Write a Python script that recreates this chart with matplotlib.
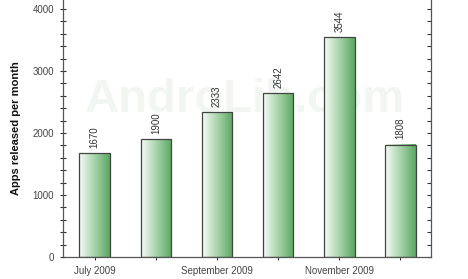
import numpy as np
import matplotlib
matplotlib.use("Agg")
import matplotlib.pyplot as plt
from matplotlib.colors import LinearSegmentedColormap
from matplotlib.ticker import MultipleLocator

months = ["July 2009", "August 2009", "September 2009", "October 2009", "November 2009", "December 2009"]
apps = [1670, 1900, 2333, 2642, 3544, 1808]
shown_labels = ["July 2009", "", "September 2009", "", "November 2009", ""]
y_ticks = [0, 1000, 2000, 3000, 4000]

plt.rcParams['font.family'] = ['Liberation Sans', 'DejaVu Sans']

fig = plt.figure(figsize=(4.68, 2.79), dpi=100)
ax = fig.add_axes([0.1346, 0.079, 0.921 - 0.1346, 0.921])

cmap = LinearSegmentedColormap.from_list("g", ["#f6fbf6", "#a8d4ab", "#5aa862"])
grad = np.linspace(0, 1, 64).reshape(1, -1)
x = np.arange(len(apps))
w = 0.5
for xi, v in zip(x, apps):
    ax.imshow(grad, cmap=cmap, aspect='auto', extent=(xi - w / 2, xi + w / 2, 0, v),
              zorder=2, interpolation='bilinear')
    ax.add_patch(plt.Rectangle((xi - w / 2, 0), w, v, fill=False, edgecolor='#444444',
                               linewidth=0.9, zorder=3))
    ax.text(xi, v + 90, str(v), rotation=90, ha='center', va='bottom',
            fontsize=7, color='#333333', zorder=4)

ax.text(2.45, 2530, "AndroLib.com", fontsize=34, fontweight='bold', color='#f2f6f2',
        ha='center', va='center', zorder=1)

ax.set_xlim(-0.52, 5.5)
ax.set_ylim(0, 4145)
ax.set_xticks(x)
ax.set_xticklabels(shown_labels, fontsize=7, color='#444444')
ax.set_yticks(y_ticks)
ax.set_yticklabels([str(t) for t in y_ticks], fontsize=7, color='#444444')
ax.yaxis.set_minor_locator(MultipleLocator(200))
ax.tick_params(axis='y', which='both', direction='inout', length=5, width=0.8, color='#333333',
               right=False, pad=4)
ax.tick_params(axis='y', which='minor', length=4)
ax.tick_params(axis='x', direction='inout', length=5, width=0.8, color='#333333', pad=4)

sec = ax.secondary_yaxis('right')
sec.set_yticks(y_ticks)
sec.yaxis.set_minor_locator(MultipleLocator(200))
sec.tick_params(axis='y', which='both', direction='in', length=3, width=0.8, color='#333333',
                labelright=False)
sec.spines['right'].set_color('#555555')
sec.spines['right'].set_linewidth(0.9)

ax.spines['top'].set_visible(False)
ax.spines['right'].set_visible(False)
for s in ['left', 'bottom']:
    ax.spines[s].set_color('#555555')
    ax.spines[s].set_linewidth(0.9)

ax.set_ylabel("Apps released per month", fontsize=8, fontweight='bold', color='#111111', labelpad=8)

fig.savefig("out.png", dpi=100)
